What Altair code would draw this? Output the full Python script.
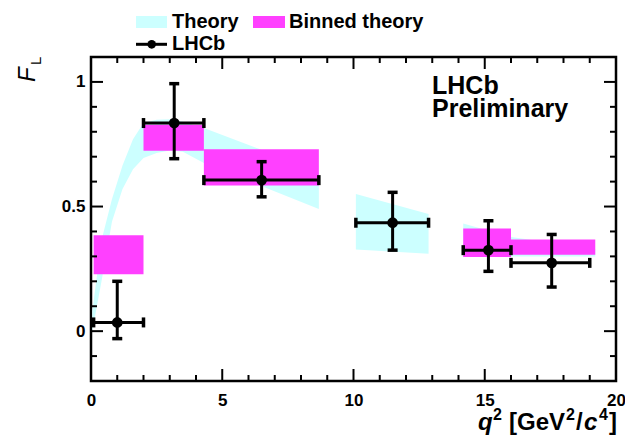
import altair as alt
import pandas as pd

# ---------------- data ----------------
# LHCb measurement
lhcb_lo = [0.1, 2.0, 4.3, 10.09, 14.18, 16.0]
lhcb_hi = [2.0, 4.3, 8.68, 12.86, 16.0, 19.0]
lhcb_q2 = [1.0, 3.17, 6.5, 11.49, 15.14, 17.55]
lhcb_fl = [0.035, 0.835, 0.606, 0.435, 0.325, 0.274]
lhcb_up = [0.20, 0.993, 0.68, 0.557, 0.443, 0.388]
lhcb_dn = [-0.03, 0.692, 0.539, 0.325, 0.24, 0.177]

# Binned theory
bt_lo = [0.1, 2.0, 4.3, 14.18, 16.0]
bt_hi = [2.0, 4.3, 8.68, 16.0, 19.21]
bt_bottom = [0.228, 0.724, 0.584, 0.298, 0.307]
bt_top = [0.385, 0.828, 0.73, 0.412, 0.368]

# Theory band (three segments)
th_seg = [1] * 13 + [2] * 2 + [3] * 3
th_q2 = [0.05, 0.1, 0.4, 0.8, 1.2, 1.6, 2.0, 2.5, 3.0, 3.5, 4.3, 6.44, 8.68,
         10.09, 12.86,
         14.18, 16.0, 19.21]
th_hi = [0.08, 0.12, 0.365, 0.53, 0.665, 0.77, 0.835, 0.848, 0.85, 0.84, 0.815, 0.73, 0.64,
         0.55, 0.47,
         0.432, 0.378, 0.33]
th_lo = [0.0, 0.03, 0.20, 0.44, 0.57, 0.65, 0.695, 0.715, 0.725, 0.72, 0.675, 0.584, 0.49,
         0.328, 0.311,
         0.30, 0.30, 0.30]

# Axis ticks
x_major = [0, 5, 10, 15, 20]
x_minor = [1, 2, 3, 4, 6, 7, 8, 9, 11, 12, 13, 14, 16, 17, 18, 19]
y_major = [0.0, 0.5, 1.0]
y_minor = [-0.1, 0.1, 0.2, 0.3, 0.4, 0.6, 0.7, 0.8, 0.9]

W, H = 525, 324
FONT = "Liberation Sans"

lhcb = pd.DataFrame({"lo": lhcb_lo, "hi": lhcb_hi, "q2": lhcb_q2,
                     "fl": lhcb_fl, "up": lhcb_up, "dn": lhcb_dn})
bt = pd.DataFrame({"lo": bt_lo, "hi": bt_hi, "b": bt_bottom, "t": bt_top})
th = pd.DataFrame({"seg": th_seg, "q2": th_q2, "hi": th_hi, "lo": th_lo})
dummy = pd.DataFrame({"a": [0]})

xs = alt.Scale(domain=[0, 20], nice=False, zero=False)
ys = alt.Scale(domain=[-0.2, 1.1], nice=False, zero=False)
xaxis = alt.Axis(values=x_major, format="d", title=None, labelFlush=False,
                 labelOverlap=False, labelPadding=11)
yaxis = alt.Axis(values=y_major, format="~g", title=None, labelFlush=False,
                 labelOverlap=False, labelPadding=6)


def X(f):
    return alt.X(f, type="quantitative", scale=xs, axis=xaxis)


def Y(f):
    return alt.Y(f, type="quantitative", scale=ys, axis=yaxis)


band = alt.Chart(th).mark_area(color="#ccffff", opacity=1).encode(
    x=X("q2"), y=Y("lo"), y2="hi", detail="seg:N")

boxes = alt.Chart(bt).mark_rect(color="#ff40ff", opacity=1).encode(
    x=X("lo"), x2="hi", y=Y("b"), y2="t")

tick_layers = []
for vals, ln in [(x_major, 12), (x_minor, 6)]:
    d = pd.DataFrame({"v": vals})
    tick_layers.append(alt.Chart(d).mark_rule(color="black", strokeWidth=2).encode(
        x=X("v"), y=alt.value(H), y2=alt.value(H - ln)))
    tick_layers.append(alt.Chart(d).mark_rule(color="black", strokeWidth=2).encode(
        x=X("v"), y=alt.value(0), y2=alt.value(ln)))
for vals, ln in [(y_major, 12), (y_minor, 6)]:
    d = pd.DataFrame({"v": vals})
    tick_layers.append(alt.Chart(d).mark_rule(color="black", strokeWidth=2).encode(
        y=Y("v"), x=alt.value(0), x2=alt.value(ln)))
    tick_layers.append(alt.Chart(d).mark_rule(color="black", strokeWidth=2).encode(
        y=Y("v"), x=alt.value(W), x2=alt.value(W - ln)))

base = alt.Chart(lhcb)
xerr = base.mark_rule(color="black", strokeWidth=3).encode(x=X("lo"), x2="hi", y=Y("fl"))
yerr = base.mark_rule(color="black", strokeWidth=3).encode(x=X("q2"), y=Y("dn"), y2="up")
cap_l = base.mark_tick(color="black", orient="vertical", size=10, thickness=3.5, opacity=1).encode(
    x=X("lo"), y=Y("fl"))
cap_r = base.mark_tick(color="black", orient="vertical", size=10, thickness=3.5, opacity=1).encode(
    x=X("hi"), y=Y("fl"))
cap_t = base.mark_tick(color="black", orient="horizontal", size=10, thickness=3.5, opacity=1).encode(
    x=X("q2"), y=Y("up"))
cap_b = base.mark_tick(color="black", orient="horizontal", size=10, thickness=3.5, opacity=1).encode(
    x=X("q2"), y=Y("dn"))
pts = base.mark_circle(color="black", size=115, opacity=1).encode(x=X("q2"), y=Y("fl"))

D = alt.Chart(dummy)


def txt(s, x, y, size, weight="bold", style="normal", angle=0, align="left"):
    return D.mark_text(text=s, font=FONT, fontSize=size, fontWeight=weight,
                       fontStyle=style, angle=angle, align=align,
                       baseline="alphabetic", color="black").encode(
        x=alt.value(x), y=alt.value(y))


legend = [
    D.mark_rect(color="#ccffff").encode(x=alt.value(45), x2=alt.value(76),
                                        y=alt.value(-41), y2=alt.value(-29)),
    txt("Theory", 81, -29, 20),
    D.mark_rect(color="#ff40ff").encode(x=alt.value(162), x2=alt.value(194),
                                        y=alt.value(-41), y2=alt.value(-29)),
    txt("Binned theory", 198, -29, 20),
    D.mark_rule(color="black", strokeWidth=3).encode(x=alt.value(45), x2=alt.value(76),
                                                     y=alt.value(-12.7)),
    D.mark_circle(color="black", size=75, opacity=1).encode(x=alt.value(60.7), y=alt.value(-12.7)),
    txt("LHCb", 81, -7, 20),
]

annot = [
    txt("LHCb", 341, 37, 25),
    txt("Preliminary", 341, 60, 25),
    # y title F_L
    txt("F", -56, 25, 24, weight="normal", style="italic", angle=270),
    txt("L", -50, 8, 15, weight="normal", angle=270),
    # x title q^2 [GeV^2/c^4]
    txt("q", 387, 373, 24, style="italic"),
    txt("2", 402, 363, 16),
    txt("[GeV", 418, 373, 24),
    txt("2", 475, 363, 16),
    txt("/", 485, 373, 24),
    txt("c", 493, 373, 24, style="italic"),
    txt("4", 508, 363, 16),
    txt("]", 518, 373, 24),
]

chart = alt.layer(
    band, boxes, *tick_layers, xerr, yerr, cap_l, cap_r, cap_t, cap_b, pts,
    *legend, *annot
).properties(
    width=W, height=H,
    autosize=alt.AutoSizeParams(type="none"),
    padding={"left": 91, "top": 57, "right": 9, "bottom": 56},
    background="white",
).configure_view(
    stroke="black", strokeWidth=2.5
).configure_axis(
    domain=False, ticks=False, grid=False,
    labelFont=FONT, labelFontWeight="bold", labelFontSize=17, labelColor="black",
)

chart.save("out.html", embed_options={"renderer": "svg", "actions": False})
